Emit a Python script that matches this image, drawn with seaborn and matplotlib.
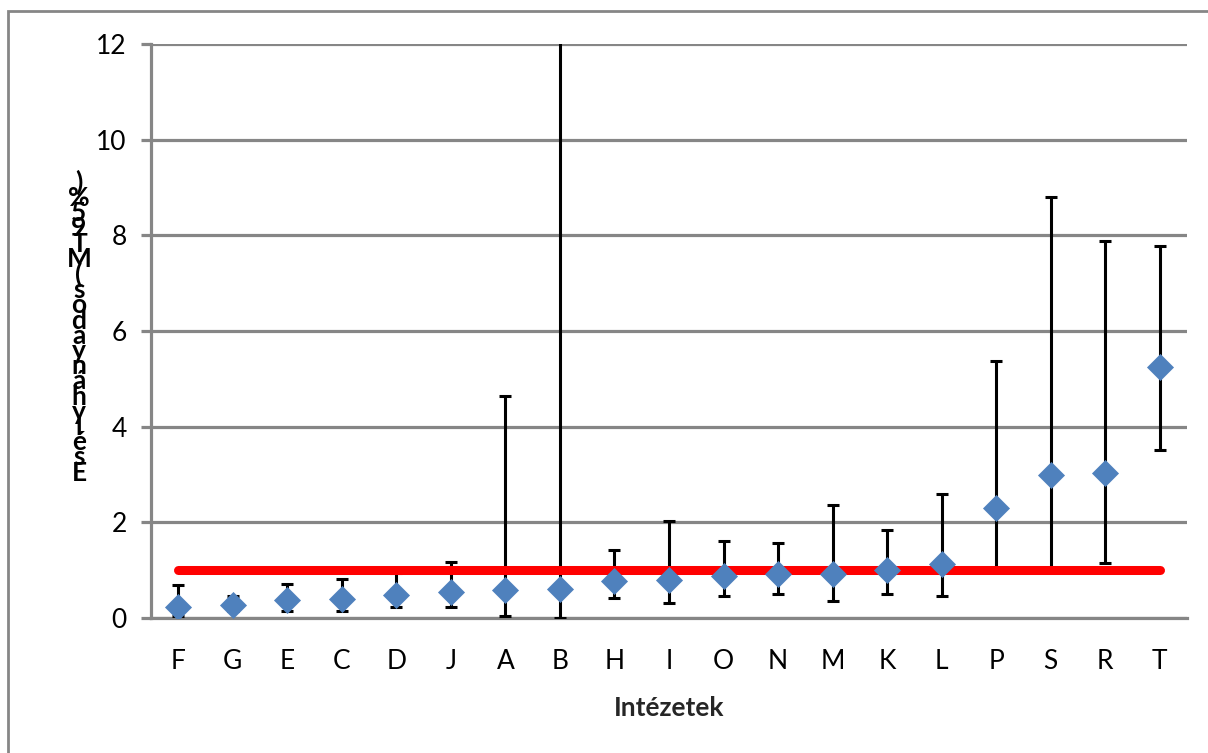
import matplotlib
matplotlib.use("Agg")
import matplotlib.pyplot as plt
import matplotlib.patches as mpatches
import seaborn as sns
import pandas as pd

categories = ["F", "G", "E", "C", "D", "J", "A", "B", "H", "I", "O", "N", "M", "K", "L", "P", "S", "R", "T"]
odds_ratio = [0.24, 0.27, 0.37, 0.40, 0.48, 0.54, 0.58, 0.61, 0.78, 0.79, 0.88, 0.91, 0.92, 1.00, 1.13, 2.29, 2.98, 3.03, 5.25]
ci_lower = [0.04, 0.15, 0.15, 0.15, 0.22, 0.22, 0.04, 0.00, 0.42, 0.31, 0.45, 0.50, 0.35, 0.50, 0.45, 1.00, 1.00, 1.14, 3.51]
ci_upper = [0.69, 0.45, 0.72, 0.81, 0.95, 1.18, 4.65, 15.0, 1.42, 2.02, 1.60, 1.56, 2.36, 1.83, 2.59, 5.37, 8.80, 7.88, 7.78]
reference = [1] * len(categories)
y_ticks = [0, 2, 4, 6, 8, 10, 12]
x_label = "Intézetek"
y_label = "Esélyhányados (MT 95%)"

df = pd.DataFrame({"cat": categories, "or": odds_ratio, "lo": ci_lower,
                   "hi": ci_upper, "ref": reference})
df["x"] = range(len(df))

sns.set_theme(style="white")
plt.rcParams["font.family"] = ["Lato", "DejaVu Sans"]

fig = plt.figure(figsize=(12.08, 7.53), dpi=100)
ax = fig.add_axes([151 / 1208, 1 - 618 / 753, (1187 - 151) / 1208, (618 - 44) / 753])

grid_col = "#868686"

# error bars
ax.errorbar(df["x"], df["or"],
            yerr=[df["or"] - df["lo"], df["hi"] - df["or"]],
            fmt="none", ecolor="black", elinewidth=2.2, capsize=4.5, capthick=2.2,
            zorder=3)

# reference line at 1
sns.lineplot(data=df, x="x", y="ref", ax=ax, color="#FF0000", linewidth=6.5,
             solid_capstyle="round", zorder=4, legend=False)

# point estimates
sns.scatterplot(data=df, x="x", y="or", ax=ax, marker="D", s=190,
                color="#4F81BD", linewidth=0, zorder=5, legend=False)

ax.set_xlim(-0.5, len(categories) - 0.5)
ax.set_ylim(0, 12)
ax.set_xticks(df["x"])
ax.set_xticklabels(categories)
ax.set_yticks(y_ticks)
ax.set_yticklabels([str(t) for t in y_ticks])

ax.yaxis.grid(True, color=grid_col, linewidth=2.3, zorder=0)
ax.set_axisbelow(True)
for s in ["top", "right"]:
    ax.spines[s].set_visible(False)
for s in ["left", "bottom"]:
    ax.spines[s].set_color(grid_col)
    ax.spines[s].set_linewidth(2.3)

ax.tick_params(axis="y", which="both", left=True, length=7.5, width=2.3,
               color=grid_col, pad=10, labelsize=19, labelcolor="black")
ax.tick_params(axis="x", which="both", bottom=False, pad=16, labelsize=19,
               labelcolor="black")

ax.set_xlabel(x_label, fontsize=19, fontweight="bold", labelpad=16)
ax.set_ylabel("")

# stacked (garbled) vertical y-axis label, as in the reference
chars = [c for c in y_label if c != " "]
fig.text(79 / 1208, 1 - 327 / 753, "\n".join(reversed(chars)), ha="center",
         va="center", fontsize=19, fontweight="bold", linespacing=0.56,
         color="black")

# outer chart border
fig.patches.append(mpatches.Rectangle((8 / 1208, -0.05), 1.2, 1 - 11 / 753 + 0.05,
                                      transform=fig.transFigure, fill=False,
                                      edgecolor=grid_col, linewidth=2))

fig.savefig("out.png", dpi=100)
